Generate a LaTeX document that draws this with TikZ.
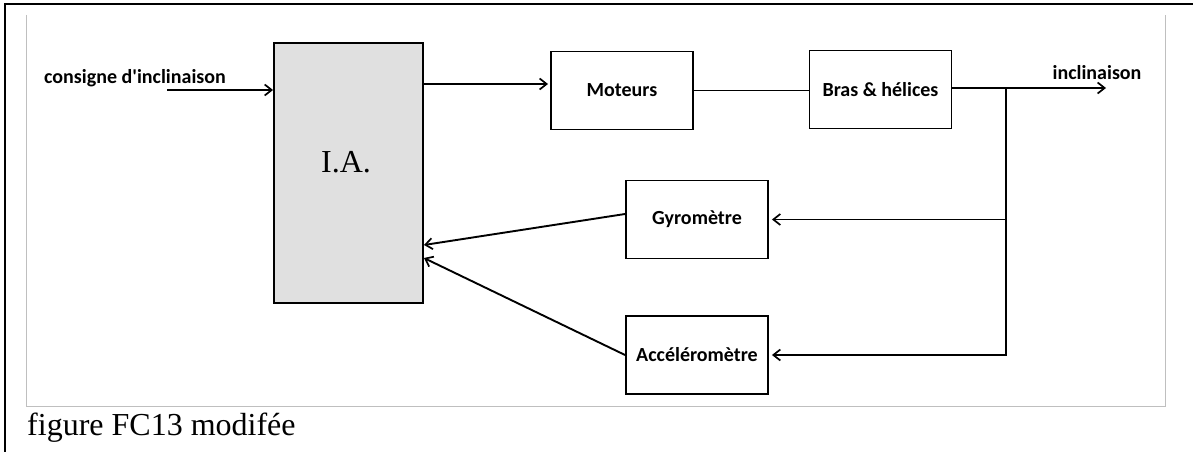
\documentclass[tikz,border=0pt]{standalone}
\usepackage{xcolor}
\usepackage{fontspec}
\setmainfont{Liberation Serif}
\newfontfamily\carlito{Carlito}
\usepackage{tikz}
\usetikzlibrary{arrows.meta}
\definecolor{fondia}{HTML}{E0E0E0}
\tikzset{
	bloc/.style={draw,line width=1.9pt,minimum width=142pt,minimum height=78pt,inner sep=0pt,font=\carlito\fontsize{20}{24}\selectfont\bfseries},
	lbl/.style={inner sep=0pt,font=\carlito\fontsize{20}{24}\selectfont\bfseries},
	fleche/.style={line width=1.9pt,-{Straight Barb[length=7pt,width=11pt,line width=1.7pt]}},
	ligne/.style={line width=1.9pt}
}
\begin{document}
\begin{tikzpicture}[x=1pt,y=-1pt]
			\useasboundingbox (0,0) rectangle (1193,452);
			\draw[line width=2.2pt] (5,452) -- (5,4) -- (1193,4);
			\draw[black!25,line width=1pt] (26,15) -- (26,406) -- (1165,406) -- (1165,15);
			\node[bloc,fill=fondia,minimum width=149pt,minimum height=260pt] (ia) at (348.5,173) {};
			\node[inner sep=0pt,font=\fontsize{32}{38}\selectfont] (ialbl) at (346,162) {I.A.};
			\node[bloc] (mot) at (622,90.5) {Moteurs};
			\node[bloc] (bras) at (880.5,89.5) {Bras \& h\'elices};
			\node[bloc] (gyro) at (697,219.5) {Gyrom\`etre};
			\node[bloc] (acc) at (697,355) {Acc\'el\'erom\`etre};
			\node[lbl] (lblin) at (135,78) {consigne d'inclinaison};
			\node[lbl] (lblout) at (1097,73) {inclinaison};
			\node[inner sep=0pt,anchor=base west,font=\fontsize{32}{38}\selectfont] (legende) at (27,435) {figure FC13 modif\'ee};
			\coordinate (in) at (167,90);
			\coordinate (iamot) at (548,84);
			\coordinate (junc) at (1006,88);
			\coordinate (out) at (1106,88);
			\draw[fleche] (in) -- (in -| ia.west);
			\draw[fleche] (ia.east |- iamot) -- (iamot);
			\draw[ligne] (mot.east) -- (mot.east -| bras.west);
			\draw[ligne] (bras.east |- junc) -- (junc);
			\draw[fleche] (junc) -- (out);
			\draw[fleche] (junc) |- ([xshift=3pt]acc.east);
			\draw[fleche] (junc |- gyro.east) -- ([xshift=3pt]gyro.east);
			\draw[fleche] ([yshift=5.5pt]gyro.west) -- ([yshift=-72pt]ia.east);
			\draw[fleche] (acc.west) -- ([yshift=-85pt]ia.east);
		\end{tikzpicture}
\end{document}
